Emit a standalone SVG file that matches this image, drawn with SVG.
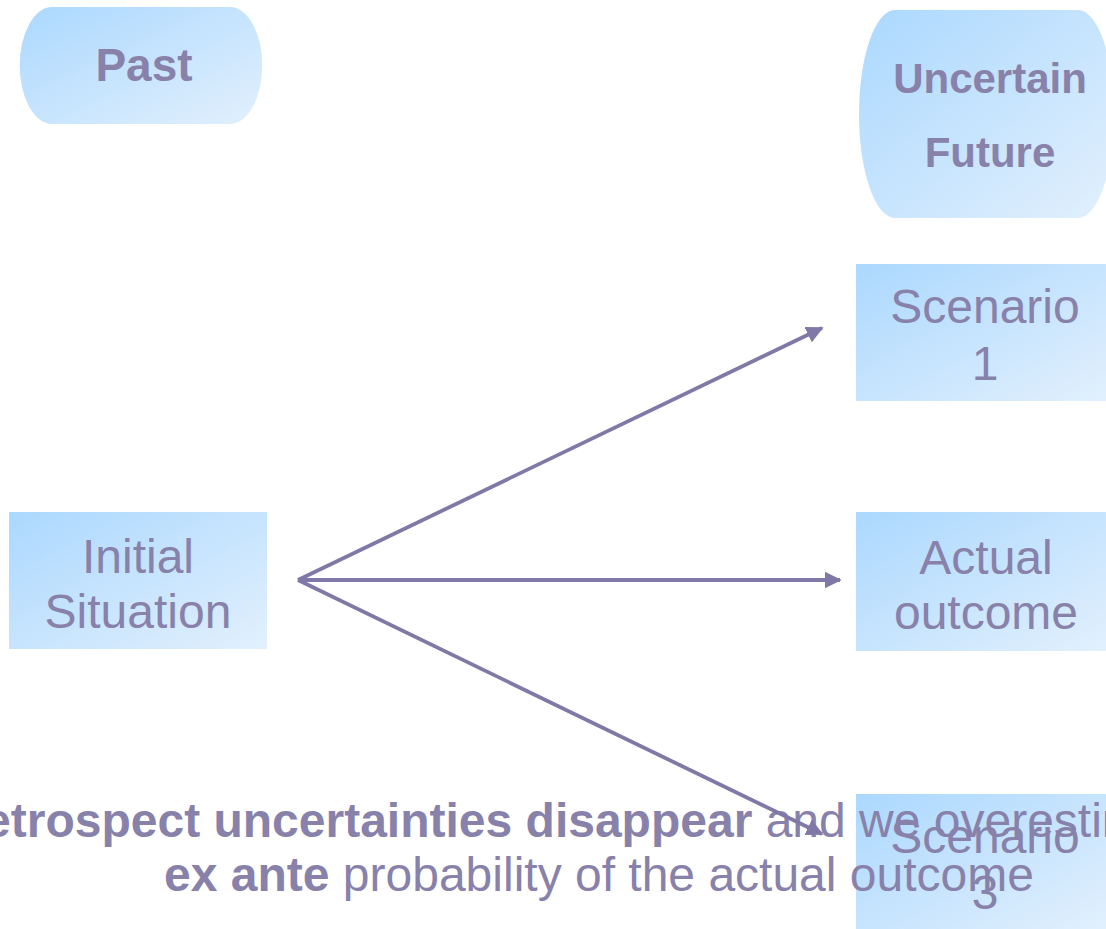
<svg xmlns="http://www.w3.org/2000/svg" width="1106" height="929" viewBox="0 0 1106 929">
<defs>
<linearGradient id="g" x1="0" y1="0" x2="1" y2="1">
<stop offset="0" stop-color="#abd8fe"/>
<stop offset="1" stop-color="#e2f0fd"/>
</linearGradient>
<marker id="ah" viewBox="0 0 10 10" refX="9" refY="5" markerWidth="4.5" markerHeight="4.5" orient="auto" markerUnits="strokeWidth">
<path d="M0,0 L10,5 L0,10 z" fill="#8079a8"/>
</marker>
</defs>
<style>
text{font-family:"Liberation Sans",Arial,sans-serif;fill:#8881aa;text-anchor:middle}
.b{font-weight:bold}
.n{font-size:48px}
.c{stroke:#8079a8;stroke-width:3.8;fill:none;marker-end:url(#ah)}
</style>
<g id="past">
<path d="M52,7 H230 A32,58 0 0 1 230,124 H52 A32,58 0 0 1 52,7 Z" fill="url(#g)"/>
<text class="b" x="144" y="81" font-size="46">Past</text>
</g>
<g id="future">
<path d="M895,10 H1078 A36,104 0 0 1 1078,218 H895 A36,104 0 0 1 895,10 Z" fill="url(#g)"/>
<text class="b" x="990" y="93" font-size="42">Uncertain</text>
<text class="b" x="990" y="167" font-size="42">Future</text>
</g>
<g id="scenario1">
<rect x="856" y="264" width="250" height="137" fill="url(#g)"/>
<text class="n" x="985" y="323">Scenario</text>
<text class="n" x="985" y="380">1</text>
</g>
<g id="actual">
<rect x="856" y="512" width="250" height="139" fill="url(#g)"/>
<text class="n" x="986" y="574">Actual</text>
<text class="n" x="986" y="629">outcome</text>
</g>
<g id="initial">
<rect x="9" y="512" width="258" height="137" fill="url(#g)"/>
<text class="n" x="138" y="573">Initial</text>
<text class="n" x="138" y="628">Situation</text>
</g>
<g id="scenario3">
<rect x="856" y="794" width="250" height="135" fill="url(#g)"/>
<text class="n" x="985" y="853">Scenario</text>
<text class="n" x="985" y="909">3</text>
</g>
<g id="caption" font-size="48">
<text x="599" y="837"><tspan class="b">In retrospect uncertainties disappear</tspan> and we overestimate the</text>
<text x="599" y="891"><tspan class="b">ex ante</tspan> probability of the actual outcome</text>
</g>
<g id="connectors">
<line class="c" x1="298" y1="580" x2="822" y2="328"/>
<line class="c" x1="298" y1="580" x2="840" y2="580"/>
<line class="c" x1="298" y1="580" x2="822" y2="834"/>
</g>
</svg>
